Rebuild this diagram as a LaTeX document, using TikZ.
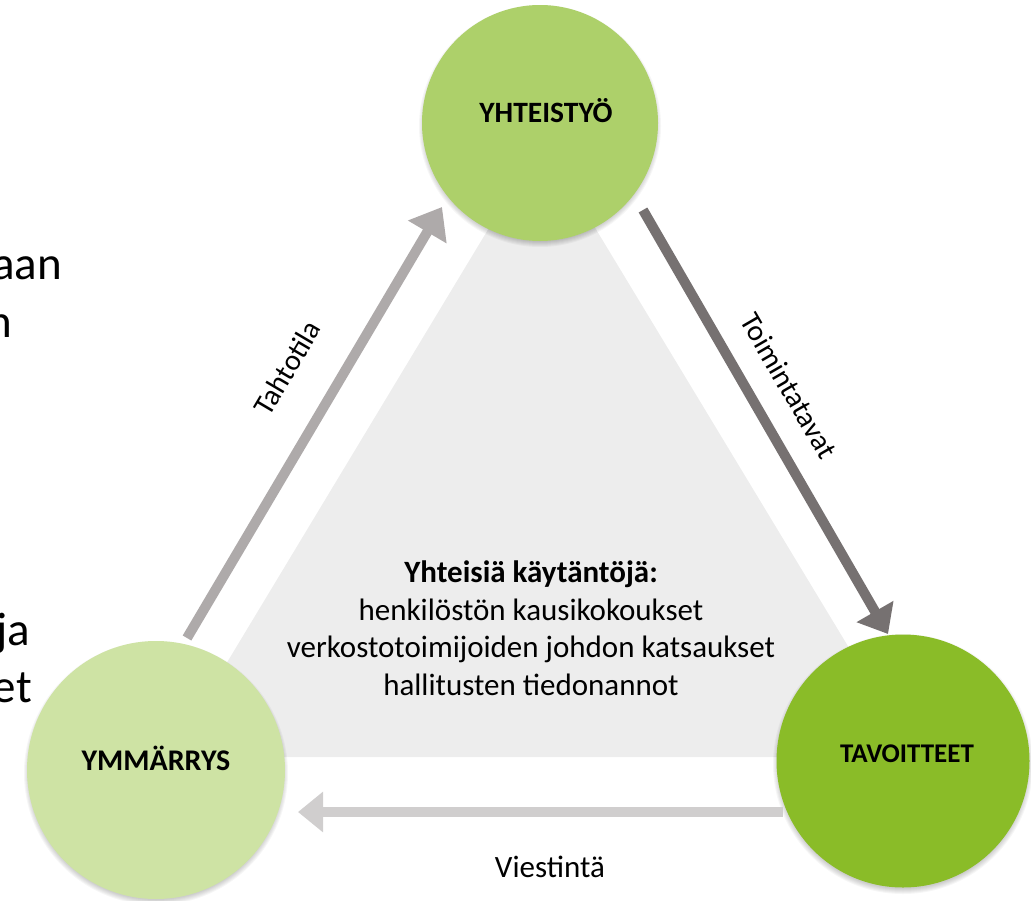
\documentclass[tikz,border=0pt]{standalone}
\usepackage{fontspec}
\setmainfont{Carlito}
\usetikzlibrary{arrows.meta,calc}
\definecolor{gTop}{HTML}{ADD06A}
\definecolor{gLeft}{HTML}{CEE3A4}
\definecolor{gRight}{HTML}{8ABC28}
\definecolor{arrA}{HTML}{AEAAAA}
\definecolor{arrB}{HTML}{767171}
\definecolor{arrC}{HTML}{D0CECE}
\definecolor{triBg}{HTML}{EDEDED}
\newcommand\fsz[2]{\fontsize{#1}{#2}\selectfont}
\begin{document}
\begin{tikzpicture}[x=1pt,y=-1pt,
  bubble/.style={circle, inner sep=0pt, minimum size=#1},
  bubbletext/.style={anchor=base, inner sep=0pt, font=\fsz{29.5}{35}\bfseries},
  flowarrow/.style={line width=10pt, line cap=butt},
  arrowlabel/.style={inner sep=0pt, font=\fsz{29.5}{35}},
  fragment/.style={anchor=base east, inner sep=0pt, font=\fsz{47}{56}},
  softshadow/.style={black, opacity=0.035}
]
\useasboundingbox (0,0) rectangle (1031,900);

% left cut-off text fragments
\node[fragment] (f1) at (62,279) {aan};
\node[fragment] (f2) at (12,337) {n};
\node[fragment] (f3) at (30,645) {ja};
\node[fragment] (f4) at (32,702) {et};

% centres
\coordinate (cT) at (540,123);
\coordinate (cL) at (156,770);
\coordinate (cR) at (903,761);

% background triangle
\fill[triBg] (542,140) -- (915,757) -- (170,757) -- cycle;

% shadows
\foreach \k in {0,...,5} {
  \fill[softshadow] ([yshift=-3pt]cT) circle[radius=116+\k];
  \fill[softshadow] ([yshift=-3pt]cL) circle[radius=127+\k];
  \fill[softshadow] ([yshift=-3pt]cR) circle[radius=125+\k];
}

% circles
\node[bubble=236pt, fill=gTop] (T) at (cT) {};
\node[bubble=258pt, fill=gLeft] (L) at (cL) {};
\node[bubble=253pt, fill=gRight] (R) at (cR) {};

\node[bubbletext] (Tt) at (546,122) {YHTEISTYÖ};
\node[bubbletext, font=\fsz{30}{35}\bfseries] (Lt) at (156,770) {YMMÄRRYS};
\node[bubbletext, font=\fsz{27}{32}\bfseries] (Rt) at (907,762) {TAVOITTEET};

% arrows
\draw[flowarrow, arrA, -{Triangle[width=43pt,length=29pt]}]
  ([shift={(31,-132)}]L.center) -- ([shift={(-98,84)}]T.center);
\draw[flowarrow, arrB, -{Triangle[width=41pt,length=26pt]}]
  ([shift={(103,87)}]T.center) -- ([shift={(-15,-127)}]R.center);
\draw[flowarrow, arrC, -{Triangle[width=39pt,length=25pt]}]
  ([shift={(-120,51)}]R.center) -- ([shift={(142,42)}]L.center);

% arrow labels
\node[arrowlabel, rotate=59.4] (tahto) at (287,368) {Tahtotila};
\node[arrowlabel, rotate=-59.9] (toim) at (789,386) {Toimintatavat};
\node[inner sep=0pt, anchor=base, font=\fsz{31}{37}] (viest) at (550,877) {Viestintä};

% centre text
\node[inner sep=0pt, anchor=base, align=center, font=\fsz{31}{37.5}] (mid) at (531,695)
  {\textbf{Yhteisiä käytäntöjä:}\\
   henkilöstön kausikokoukset\\
   verkostotoimijoiden johdon katsaukset\\
   hallitusten tiedonannot};
\end{tikzpicture}
\end{document}
